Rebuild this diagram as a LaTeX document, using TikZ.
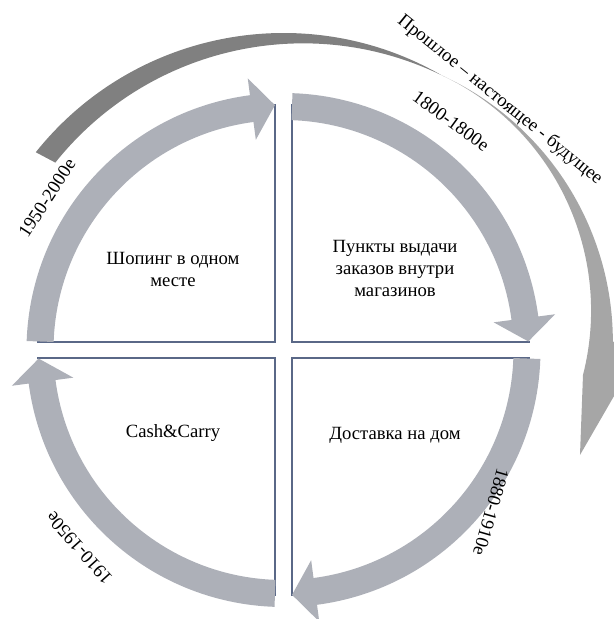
\documentclass[tikz,border=0pt]{standalone}
\usepackage{fontspec}
\setmainfont{Liberation Serif}
\usepackage{xcolor}
\usepackage{tikz}
\definecolor{band}{HTML}{ADB0B8}
\definecolor{edge}{HTML}{5A6887}
\colorlet{tail}{black!50}
\colorlet{front}{black!35}

\begin{document}
\begin{tikzpicture}[x=0.75pt, y=0.75pt,
    txt/.style={font=\fontsize{14}{16.5}\selectfont, align=center, inner sep=0pt},
    era/.style={font=\fontsize{14}{16}\selectfont, inner sep=0pt}]

  % --- canvas, origin in the middle of the cross ------------------------------
  \useasboundingbox (-283.5,-269) rectangle (330.5,350);
  \clip (-283.5,-269) rectangle (330.5,350);

  % --- outer timeline arrow ---------------------------------------------------
  % dark tail: outer rim on the origin, inner rim on a shifted centre
  \fill[tail] (141.4:317) arc[start angle=141.4, end angle=60.1, radius=317]
    arc[start angle=64.1, end angle=141.4, radius=317] -- cycle;
  % light front, widening into the head
  \fill[front] (158.4,274.6) arc[start angle=65.4, end angle=0, radius=292.9]
    -- (360,5) -- (296.5,-105) -- (299.5,-25)
    arc[start angle=-14.3, end angle=64.7, radius=260.3] -- cycle;
  \node[txt, rotate=-39] (motto) at (216.5,250) {Прошлое – настоящее - будущее};

  % --- the four panes (only the straight sides show) --------------------------
  \foreach \cx/\cy/\a in {-8.5/8/90, 8.5/8/0, 8.5/-8/-90, -8.5/-8/180}
    \draw[edge, line width=1pt] (\cx,\cy) ++(\a+90:238) -- (\cx,\cy) -- ++(\a:238);

  % --- circular arrows, one per quarter ---------------------------------------
  \foreach \k in {0,...,3}
    \fill[band, rotate=-90*\k] (178:257) arc[start angle=178, end angle=97.5, radius=257]
      -- (97.5:274) -- (92:245) -- (97.5:212) -- (97.5:230)
      arc[start angle=97.5, end angle=178, radius=230] -- cycle;

  % --- periods ----------------------------------------------------------------
  \node[era, rotate=57]   (e1950) at (-236.5,152) {1950-2000е};
  \node[era, rotate=-36]  (e1800) at (167.5,229)  {1800-1800е};
  \node[era, rotate=-106] (e1880) at (207.5,-162) {1880-1910е};
  \node[era, rotate=132]  (e1910) at (-204.5,-198) {1910-1950е};

  % --- pane texts -------------------------------------------------------------
  \node[txt] (oneplace)  at (-110.5,81)   {Шопинг в одном\\месте};
  \node[txt] (pickup)    at (111.5,82)    {Пункты выдачи\\заказов внутри\\магазинов};
  \node[txt] (cashcarry) at (-110.5,-83.5) {Cash\&Carry};
  \node[txt] (delivery)  at (111.5,-85)   {Доставка на дом};

\end{tikzpicture}
\end{document}
